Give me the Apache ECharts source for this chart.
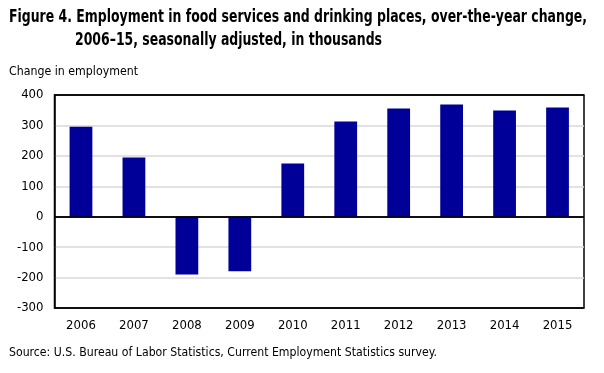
<!DOCTYPE html>
<html><head><meta charset="utf-8">
<script src="https://cdn.jsdelivr.net/npm/echarts@6/dist/echarts.min.js"></script>
<style>html,body{margin:0;padding:0;background:#fff}#c{width:604px;height:373px}</style>
</head><body><div id="c"></div>
<script>
const categories = ['2006','2007','2008','2009','2010','2011','2012','2013','2014','2015'];
const values = [296, 195, -190, -179, 175, 313, 356, 369, 349, 359];
const yTicks = [-300, -200, -100, 0, 100, 200, 300, 400];
const titleLine1 = 'Figure 4. Employment in food services and drinking places, over-the-year change,';
const titleLine2 = '2006\u201315, seasonally adjusted, in thousands';
const yAxisTitle = 'Change in employment';
const sourceText = 'Source: U.S. Bureau of Labor Statistics, Current Employment Statistics survey.';

const FF = '"DejaVu Sans Condensed", "Open Sans", sans-serif';
const ctx = document.createElement('canvas').getContext('2d');
function fitText(text, font, left, top, targetWidth) {
  ctx.font = font;
  const w = ctx.measureText(text).width;
  const s = targetWidth / w;
  return {type:'text', x: left, y: top, scaleX: s, scaleY: 1, originX: 0, originY: 0,
          style:{text: text, font: font, fill:'#000', x: 0, y: 0}};
}
const splitColors = yTicks.map(v => (v === 0 || v === yTicks[0] || v === yTicks[yTicks.length-1]) ? '#000' : '#d9d9d9');

const chart = echarts.init(document.getElementById('c'), null, {renderer:'canvas'});
chart.setOption({
  animation: false,
  textStyle: {fontFamily: FF},
  grid: {left: 54.5, right: 20, top: 95, bottom: 65, containLabel: false, show: true, borderColor: '#000', borderWidth: 1.5, backgroundColor: 'transparent'},
  graphic: [
    fitText(titleLine1, 'bold 17px ' + FF, 9, 9, 578),
    fitText(titleLine2, 'bold 17px ' + FF, 75, 32, 307),
    fitText(yAxisTitle, '13px ' + FF, 9, 65, 129),
    fitText(sourceText, '13px ' + FF, 9, 346, 428)
  ],
  xAxis: {
    type: 'category', data: categories,
    axisLine: {show: false}, axisTick: {show: false},
    axisLabel: {color:'#000', fontSize: 13, margin: 11, fontFamily: FF}
  },
  yAxis: {
    type: 'value', min: yTicks[0], max: yTicks[yTicks.length-1], interval: 100,
    axisLine: {show: true, lineStyle: {color: '#000', width: 1.5}}, axisTick: {show: false},
    axisLabel: {color:'#000', fontSize: 13, margin: 11, fontFamily: FF},
    splitLine: {show: true, lineStyle: {color: splitColors, width: 1.5}}
  },
  series: [{
    type: 'bar', data: values, barWidth: '43%',
    itemStyle: {color: '#000099'},
    markLine: {silent: true, symbol: 'none', label:{show:false},
      lineStyle: {color:'#000', width: 1.5, type:'solid'}, data: [{yAxis: 0}]}
  }]
});
</script></body></html>
